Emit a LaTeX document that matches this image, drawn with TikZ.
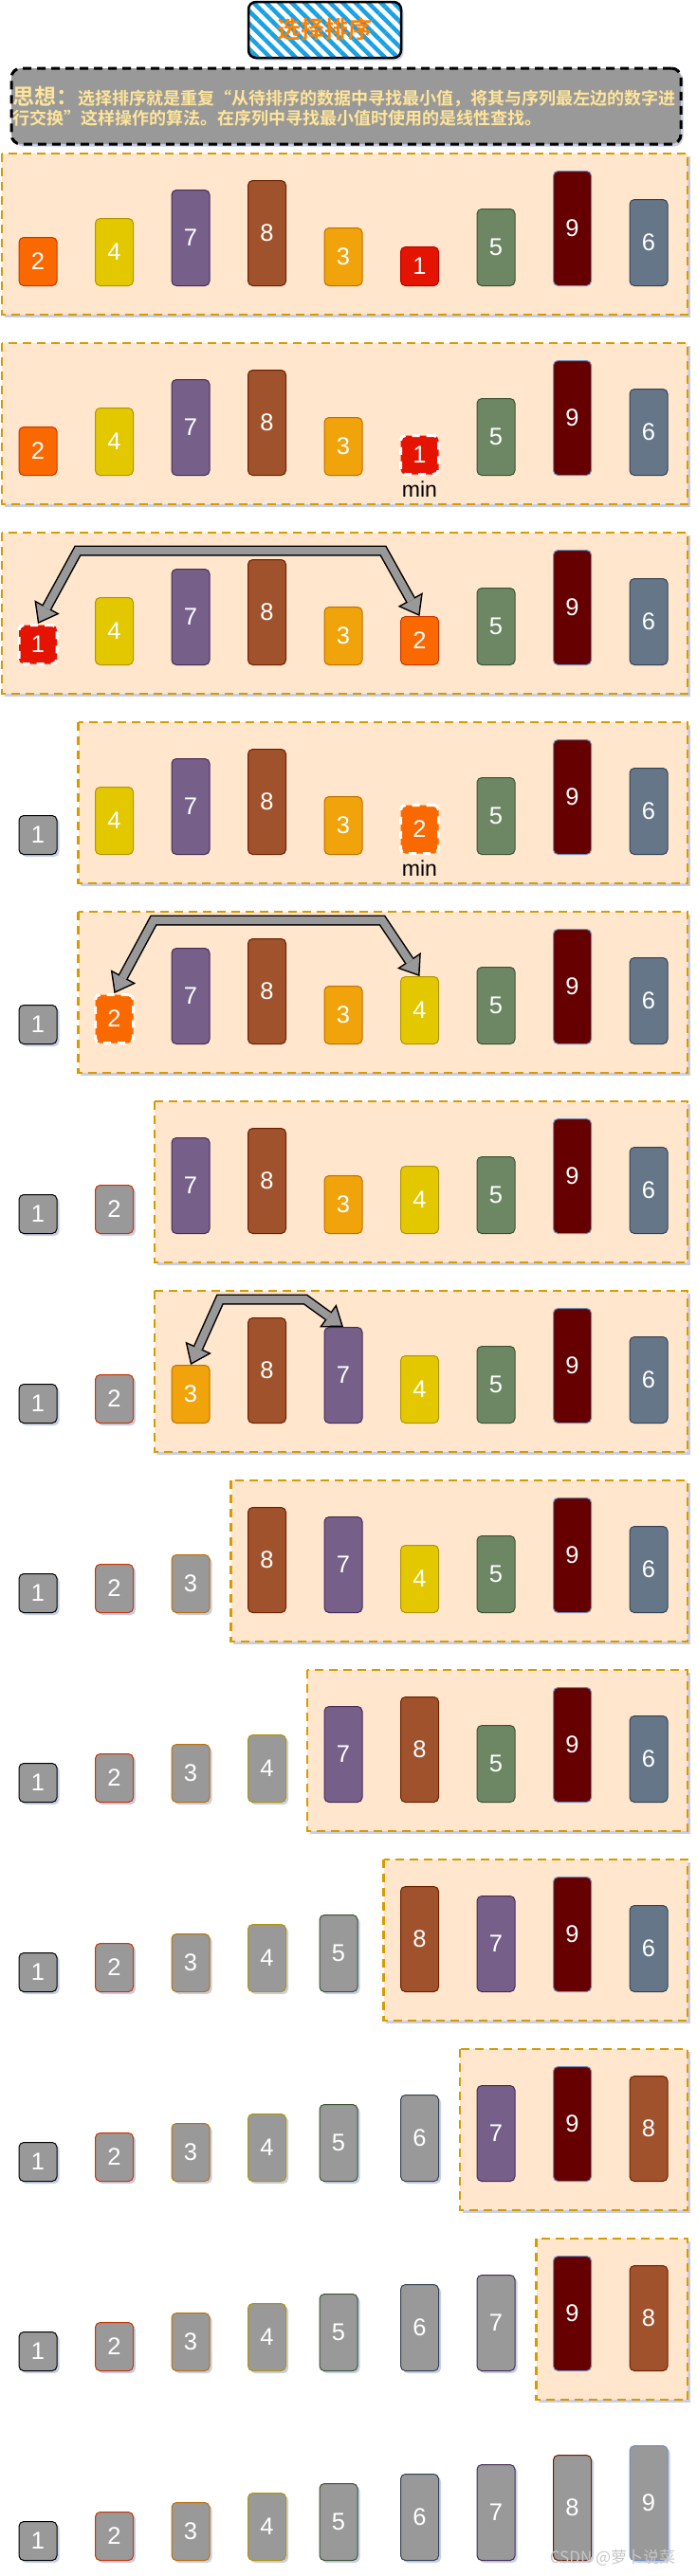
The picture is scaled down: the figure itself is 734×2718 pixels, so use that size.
\documentclass[tikz,border=0pt]{standalone}
\usepackage{fontspec}
\setmainfont{Liberation Sans}
\newfontfamily\cjk{Noto Sans CJK SC}[BoldFont={Noto Sans CJK SC Bold}]
\usetikzlibrary{arrows.meta,shapes,positioning,shadows,patterns.meta}

% bar fills (f), bar strokes (s), strokes once sorted (k)
\definecolor{f1}{HTML}{E51400}\definecolor{s1}{HTML}{B20000}
\definecolor{f2}{HTML}{FA6800}\definecolor{s2}{HTML}{C73500}
\definecolor{f3}{HTML}{F0A30A}\definecolor{s3}{HTML}{BD7000}
\definecolor{f4}{HTML}{E3C800}\definecolor{s4}{HTML}{B09500}
\definecolor{f5}{HTML}{6D8764}\definecolor{s5}{HTML}{3A5431}
\definecolor{f6}{HTML}{647687}\definecolor{s6}{HTML}{314354}
\definecolor{f7}{HTML}{76608A}\definecolor{s7}{HTML}{432D57}
\definecolor{f8}{HTML}{A0522D}\definecolor{s8}{HTML}{6D1F00}
\definecolor{f9}{HTML}{660000}\definecolor{s9}{HTML}{6C8EBF}
\colorlet{k1}{black}\colorlet{k2}{s2}\colorlet{k3}{s3}\colorlet{k4}{s4}\colorlet{k5}{s5}
\colorlet{k6}{s6}\colorlet{k7}{s7}\colorlet{k8}{s8}\colorlet{k9}{s9}
\definecolor{sortedgray}{HTML}{999999}
\definecolor{boxfill}{HTML}{FFE6CC}
\definecolor{boxline}{HTML}{D79B00}
\definecolor{ideafont}{HTML}{FFE599}
\definecolor{hatch}{HTML}{1BA1E2}
\definecolor{titlefont}{HTML}{FF8000}
\definecolor{shadowblue}{HTML}{A4AEDB}

% one step: row, number already sorted, highlighted column, values
\newcommand{\barrow}[4]{%
  \ifnum#2<9
    \draw[rowbox] ({2+80.5*#2},{162+200*#1}) rectangle (725,{332+200*#1});
  \fi
  \foreach \val [count=\col from 0] in {#4} {
    \pgfmathsetmacro\barh{31+10*\val}
    \ifnum\col<#2
      \node[bar,sortedbar=\val,minimum height=\barh pt] (b#1-\col) at ({40+80.5*\col-5*(\val==5)},{302+200*#1}) {\val};
    \else
      \ifnum\col=#3
        \node[bar,colbar=\val,hl,minimum height=\barh pt] (b#1-\col) at ({40+80.5*\col},{302+200*#1}) {\val};
      \else
        \node[bar,colbar=\val,minimum height=\barh pt] (b#1-\col) at ({40+80.5*\col},{302+200*#1}) {\val};
      \fi
    \fi
  }
}

\begin{document}
\begin{tikzpicture}[x=1pt,y=-1pt,
    softshadow/.style={drop shadow={shadow xshift=2.5pt,shadow yshift=-2.5pt,fill=shadowblue,opacity=0.6}},
    titlebox/.style={rectangle,rounded corners=8pt,minimum width=161pt,minimum height=59pt,softshadow,preaction={fill=white},pattern={Lines[angle=-45,distance=9.5pt,line width=4.5pt]},pattern color=hatch,draw=black,line width=2.5pt,text=titlefont,font=\cjk\bfseries\fontsize{25}{30}\selectfont},
    ideabox/.style={rectangle,rounded corners=10pt,minimum width=706pt,minimum height=80pt,text width=704pt,inner xsep=0pt,align=left,fill=sortedgray,draw=black,line width=3pt,dash pattern=on 9pt off 6pt,softshadow,text=ideafont,font=\cjk\bfseries\fontsize{18}{21}\selectfont},
    rowbox/.style={fill=boxfill,draw=boxline,line width=2.5pt,dash pattern=on 9pt off 6pt,softshadow},
    bar/.style={rectangle,rounded corners=5pt,minimum width=40pt,inner sep=0pt,anchor=south,line width=1pt,text=white,font=\fontsize{25.5}{30}\selectfont},
    colbar/.style={fill=f#1,draw=s#1},
    sortedbar/.style={fill=sortedgray,draw=k#1,softshadow},
    hl/.style={draw=white,line width=3pt,dash pattern=on 8pt off 7pt},
    minlabel/.style={inner sep=0pt,text=black,font=\fontsize{23}{27}\selectfont},
    swapedge/.style={draw=black,line width=11pt,{Triangle[length=20pt,width=30pt,line width=0pt]}-{Triangle[length=20pt,width=30pt,line width=0pt]}},
    swapbody/.style={draw=sortedgray,line width=8pt,shorten <=2.5pt,shorten >=2.5pt,{Triangle[length=16pt,width=24pt,line width=0pt]}-{Triangle[length=16pt,width=24pt,line width=0pt]}},
    watermark/.style={text=gray!45,font=\cjk\fontsize{17}{20}\selectfont}
]
    \useasboundingbox (0,0) rectangle (734,2718);

    \node[titlebox] (title) at (342.5,31.5) {选择排序};
    \node[ideabox] (idea) at (365,112) {{\fontsize{23}{21}\selectfont 思想：}选择排序就是重复“从待排序的数据中寻找最小值，将其与序列最左边的数字进\\行交换”这样操作的算法。在序列中寻找最小值时使用的是线性查找。};

    \barrow{0}{0}{-1}{2,4,7,8,3,1,5,9,6}
    \barrow{1}{0}{5}{2,4,7,8,3,1,5,9,6}
    \barrow{2}{0}{0}{1,4,7,8,3,2,5,9,6}
    \barrow{3}{1}{5}{1,4,7,8,3,2,5,9,6}
    \barrow{4}{1}{1}{1,2,7,8,3,4,5,9,6}
    \barrow{5}{2}{-1}{1,2,7,8,3,4,5,9,6}
    \barrow{6}{2}{-1}{1,2,3,8,7,4,5,9,6}
    \barrow{7}{3}{-1}{1,2,3,8,7,4,5,9,6}
    \barrow{8}{4}{-1}{1,2,3,4,7,8,5,9,6}
    \barrow{9}{5}{-1}{1,2,3,4,5,8,7,9,6}
    \barrow{10}{6}{-1}{1,2,3,4,5,6,7,9,8}
    \barrow{11}{7}{-1}{1,2,3,4,5,6,7,9,8}
    \barrow{12}{9}{-1}{1,2,3,4,5,6,7,8,9}

    \node[minlabel,below=6pt of b1-5] (min1) {min};
    \node[minlabel,below=6pt of b3-5] (min3) {min};

    % swaps
    \draw[swapedge] (b2-0.north) -- (82,581) -- (404,581) -- (b2-5.north);
    \draw[swapbody] (b2-0.north) -- (82,581) -- (404,581) -- (b2-5.north);
    \draw[swapedge] (b4-1.north) -- (162,971) -- (403,971) -- (b4-5.north);
    \draw[swapbody] (b4-1.north) -- (162,971) -- (403,971) -- (b4-5.north);
    \draw[swapedge] (b6-2.north) -- (232,1371) -- (322,1371) -- (b6-4.north);
    \draw[swapbody] (b6-2.north) -- (232,1371) -- (322,1371) -- (b6-4.north);

    \node[watermark] (mark) at (646,2699) {CSDN @萝卜说菜};
\end{tikzpicture}
\end{document}
